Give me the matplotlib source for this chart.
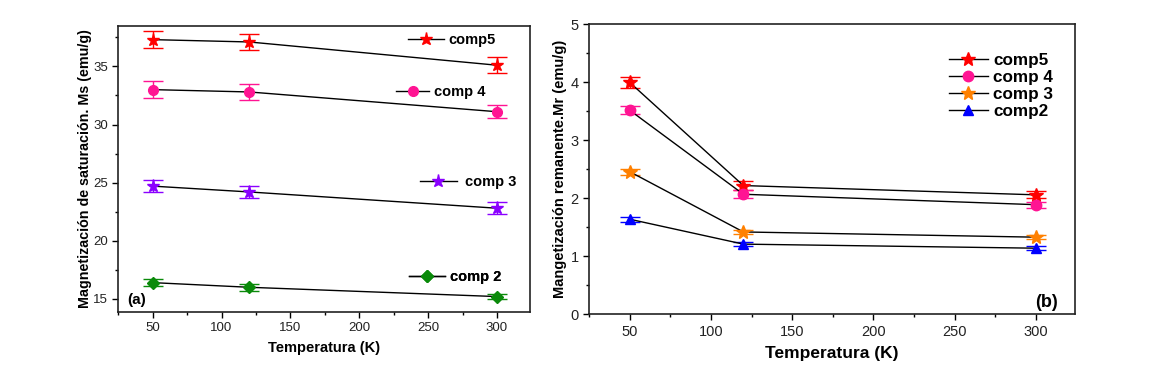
import matplotlib
matplotlib.use("Agg")
import matplotlib.pyplot as plt
from matplotlib.ticker import MultipleLocator

plt.rcParams['font.family'] = ['Liberation Sans', 'DejaVu Sans']

temps = [50, 120, 300]

# Panel (a): saturation magnetization
ms_labels = ["comp5", "comp 4", "comp 3", "comp 2"]
ms_comp5 = [37.3, 37.1, 35.1]
ms_comp4 = [33.0, 32.8, 31.1]
ms_comp3 = [24.7, 24.2, 22.8]
ms_comp2 = [16.4, 16.0, 15.2]
ms_err5 = [0.7, 0.7, 0.7]
ms_err4 = [0.7, 0.7, 0.55]
ms_err3 = [0.5, 0.5, 0.5]
ms_err2 = [0.3, 0.3, 0.2]

# Panel (b): remanent magnetization
mr_labels = ["comp5", "comp 4", "comp 3", "comp2"]
mr_comp5 = [4.0, 2.22, 2.06]
mr_comp4 = [3.52, 2.07, 1.89]
mr_comp3 = [2.46, 1.42, 1.33]
mr_comp2 = [1.64, 1.21, 1.14]
mr_err5 = [0.1, 0.07, 0.06]
mr_err4 = [0.07, 0.07, 0.05]
mr_err3 = [0.05, 0.03, 0.03]
mr_err2 = [0.04, 0.03, 0.03]

fig = plt.figure(figsize=(11.61, 3.69), dpi=100)
axa = fig.add_axes([0.1019, 0.1553, 0.3546, 0.7751])
axb = fig.add_axes([0.5073, 0.1482, 0.4186, 0.7859])

def style(ax, tsize, xsize):
    ax.xaxis.set_major_locator(MultipleLocator(50))
    ax.xaxis.set_minor_locator(MultipleLocator(25))
    ax.tick_params(which='both', direction='out', labelsize=tsize, labelcolor='#222222')
    ax.tick_params(which='major', length=4, width=1)
    ax.tick_params(which='minor', length=2.5, width=1)
    for s in ax.spines.values():
        s.set_linewidth(1.2)
        s.set_color('#222222')
    ax.set_xlim(25, 324)
    ax.set_xlabel("Temperatura (K)", fontsize=xsize, fontweight='bold', labelpad=5)

def series(ax, y, err, color, marker, ms, label):
    ax.errorbar(temps, y, yerr=err, fmt='none', ecolor=color, elinewidth=1,
                capsize=7, capthick=1, zorder=2)
    ln, = ax.plot(temps, y, color='black', lw=1, marker=marker, ms=ms,
                  mfc=color, mec=color, zorder=3, label=label)
    return ln

# ---- panel (a)
style(axa, 9.5, 10.5)
axa.set_ylim(13.9, 38.5)
axa.yaxis.set_major_locator(MultipleLocator(5))
axa.yaxis.set_minor_locator(MultipleLocator(2.5))
axa.set_ylabel("Magnetización de saturación. Ms (emu/g)", fontsize=10.3, fontweight='bold', labelpad=1)

a_specs = [
    (ms_comp5, ms_err5, '#ff0000', '*', 9.5, ms_labels[0], (0.704, 0.950), 2.45, 0.34),
    (ms_comp4, ms_err4, '#ff1493', 'o', 7, ms_labels[1], (0.674, 0.768), 2.3, 0.34),
    (ms_comp3, ms_err3, '#8a00ff', '*', 9.5, ms_labels[2], (0.733, 0.453), 2.5, 0.55),
    (ms_comp2, ms_err2, '#0a8a0a', 'D', 6, ms_labels[3], (0.706, 0.121), 2.45, 0.34),
]
for y, err, c, m, ms, lab, pos, hl, htp in a_specs:
    ln = series(axa, y, err, c, m, ms, lab)
    leg = axa.legend([ln], [lab], loc='center left', bbox_to_anchor=pos, frameon=False,
                     borderpad=0, borderaxespad=0, handlelength=hl, handletextpad=htp,
                     prop={'weight': 'bold', 'size': 10.5})
    axa.add_artist(leg)
axa.text(0.021, 0.028, "(a)", transform=axa.transAxes, fontsize=11, fontweight='bold')

# ---- panel (b)
style(axb, 10.5, 12.5)
axb.set_ylim(0, 5)
axb.yaxis.set_major_locator(MultipleLocator(1))
axb.yaxis.set_minor_locator(MultipleLocator(0.5))
axb.set_ylabel("Mangetización remanente.Mr (emu/g)", fontsize=10.5, fontweight='bold', labelpad=2.5)

b_specs = [
    (mr_comp5, mr_err5, '#ff0000', '*', 10, mr_labels[0]),
    (mr_comp4, mr_err4, '#ff1493', 'o', 7.5, mr_labels[1]),
    (mr_comp3, mr_err3, '#ff8000', '*', 10, mr_labels[2]),
    (mr_comp2, mr_err2, '#0000ff', '^', 7.5, mr_labels[3]),
]
handles = []
for y, err, c, m, ms, lab in b_specs:
    handles.append(series(axb, y, err, c, m, ms, lab))
axb.legend(handles, mr_labels, loc='upper right', bbox_to_anchor=(0.955, 0.90), frameon=False,
           borderpad=0, borderaxespad=0, handlelength=2.3, handletextpad=0.3,
           labelspacing=0.12, prop={'weight': 'bold', 'size': 12.3})
axb.text(0.965, 0.025, "(b)", transform=axb.transAxes, fontsize=13, fontweight='bold', ha='right')

fig.savefig("out.png", dpi=100)
